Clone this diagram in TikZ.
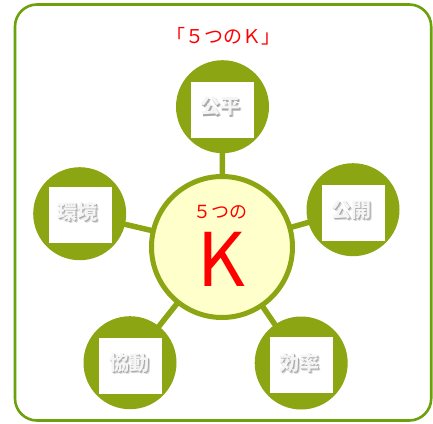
\documentclass[tikz,border=0pt]{standalone}
\usepackage{fontspec}
\setmainfont{Noto Sans CJK JP}
\usetikzlibrary{backgrounds}
\definecolor{olive}{HTML}{8CA512}
\definecolor{framegreen}{HTML}{6CA00C}
\definecolor{kfill}{HTML}{FFFFCC}
\newcommand\embossed[1]{%
  \makebox[0pt][l]{\hspace{2pt}\raisebox{-2pt}{\textcolor{black!16}{#1}}}%
  \makebox[0pt][l]{\hspace{1.2pt}\raisebox{-1.2pt}{\textcolor{black!34}{#1}}}%
  \textcolor{black!4}{#1}}
\begin{document}
\begin{tikzpicture}[x=1pt,y=-1pt,
  frame/.style={draw=framegreen, line width=2.6pt, rounded corners=22pt},
  sat/.style={circle, fill=olive, minimum size=93pt, inner sep=0pt},
  hub/.style={circle, draw=olive, line width=5pt, fill=kfill, minimum size=141pt, inner sep=0pt},
  sq/.style={fill=white, minimum width=63pt, minimum height=56pt, inner sep=0pt},
  conn/.style={draw=olive, line width=5.5pt},
  lbl/.style={font=\bfseries\fontsize{20}{23}\selectfont, inner sep=0pt},
  redtxt/.style={text=red, inner sep=0pt}]
\useasboundingbox (0,0) rectangle (433,423);
\draw[frame] (15,4.5) rectangle (431.2,420.5);

\node[redtxt, font=\fontsize{19}{22}\selectfont] (title) at (223,36) {「５つのＫ」};

\node[hub] (c) at (222,247) {};
\node[redtxt, font=\fontsize{18}{21}\selectfont] (five) at (220,212) {５つの};
\node[redtxt, font=\fontsize{74}{80}\selectfont] (k) at (221,259) {K};

\node[sat] (s1) at (222.5,106.7) {};
\node[sat] (s2) at (353,209.7) {};
\node[sat] (s3) at (301.2,363) {};
\node[sat] (s4) at (130,362.7) {};
\node[sat] (s5) at (79.7,213.7) {};

\node[sq] (q1) at (222,109.7) {};
\node[sq] (q2) at (353.3,212.8) {};
\node[sq] (q3) at (301.3,365) {};
\node[sq] (q4) at (130.7,365.5) {};
\node[sq] (q5) at (80,215) {};

\node[lbl] (t1) at (220.5,107.5) {\embossed{公平}};
\node[lbl] (t2) at (351.5,211) {\embossed{公開}};
\node[lbl] (t3) at (299.5,364) {\embossed{効率}};
\node[lbl] (t4) at (129,364) {\embossed{協動}};
\node[lbl] (t5) at (77.5,212.5) {\embossed{環境}};

\begin{pgfonlayer}{background}
\draw[conn] (c.center) -- (s1.center);
\draw[conn] (c.center) -- (s2.center);
\draw[conn] (c.center) -- (s3.center);
\draw[conn] (c.center) -- (s4.center);
\draw[conn] (c.center) -- (s5.center);
\end{pgfonlayer}
\end{tikzpicture}
\end{document}
